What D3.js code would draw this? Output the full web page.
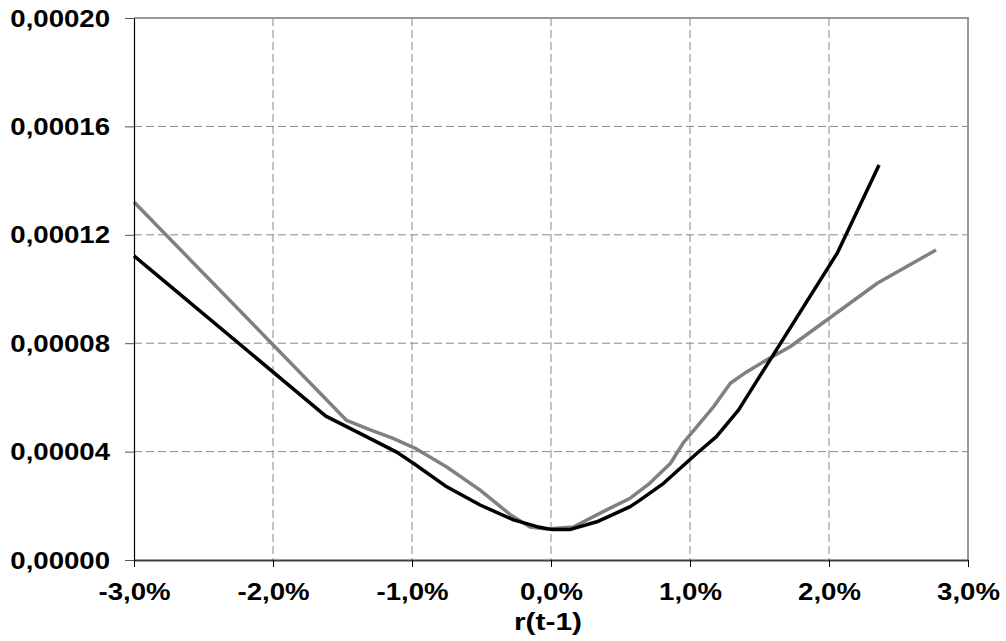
<!DOCTYPE html>
<html>
<head>
<meta charset="utf-8">
<script src="https://cdn.jsdelivr.net/npm/d3@7"></script>
<style>
  body { margin: 0; background: #fff; }
  text { font-family: "Liberation Sans", Arial, sans-serif; font-weight: bold; font-size: 23px; fill: #000; }
</style>
</head>
<body>
<div id="chart"></div>
<script>
// black series
const blackX = [-3.0, -1.62, -1.35, -1.11, -0.99, -0.75, -0.51, -0.27, -0.10, 0.0, 0.14, 0.33, 0.57, 0.64, 0.81, 1.05, 1.19, 1.35, 2.06, 2.36];
const blackY = [1.122e-4, 5.31e-5, 4.61e-5, 3.98e-5, 3.57e-5, 2.70e-5, 2.03e-5, 1.48e-5, 1.23e-5, 1.13e-5, 1.13e-5, 1.41e-5, 1.97e-5, 2.21e-5, 2.83e-5, 3.94e-5, 4.55e-5, 5.54e-5, 1.133e-4, 1.458e-4];

// gray series
const grayX = [-3.0, -1.47, -1.30, -1.14, -0.98, -0.75, -0.51, -0.29, -0.15, -0.03, 0.16, 0.40, 0.57, 0.71, 0.86, 0.95, 1.05, 1.17, 1.29, 1.41, 1.53, 1.72, 2.35, 2.77];
const grayY = [1.321e-4, 5.15e-5, 4.80e-5, 4.50e-5, 4.13e-5, 3.43e-5, 2.58e-5, 1.66e-5, 1.22e-5, 1.14e-5, 1.22e-5, 1.85e-5, 2.28e-5, 2.83e-5, 3.57e-5, 4.31e-5, 4.92e-5, 5.66e-5, 6.52e-5, 6.95e-5, 7.32e-5, 7.87e-5, 1.022e-4, 1.144e-4];

const xTicks = [-0.03, -0.02, -0.01, 0, 0.01, 0.02, 0.03];
const yTicks = [0, 0.00004, 0.00008, 0.00012, 0.00016, 0.0002];
const xLabel = "r(t-1)";

const width = 834;
const height = 542;
const margin = { top: 18, right: 38, bottom: 81, left: 134 };
const stretch = 1.2;

const svg = d3.select("#chart")
    .append("svg")
    .attr("width", width + margin.left + margin.right)
    .attr("height", height + margin.top + margin.bottom)
    .append("g")
    .attr("transform", `translate(${margin.left},${margin.top})`);

const xScale = d3.scaleLinear().domain([-0.03, 0.03]).range([0, width]);
const yScale = d3.scaleLinear().domain([0, 0.0002]).range([height, 0]);

const fmtY = d => d3.format(".5f")(d).replace(".", ",");
const fmtX = d => d3.format(".1%")(d).replace(".", ",").replace("\u2212", "-");

// grid
svg.selectAll(".hgrid")
    .data(yTicks.slice(1, -1))
    .enter()
    .append("line")
    .attr("x1", 0)
    .attr("x2", width)
    .attr("y1", d => yScale(d))
    .attr("y2", d => yScale(d))
    .attr("stroke", "#888")
    .attr("stroke-dasharray", "8,4");

svg.selectAll(".vgrid")
    .data(xTicks.slice(1, -1))
    .enter()
    .append("line")
    .attr("x1", d => xScale(d))
    .attr("x2", d => xScale(d))
    .attr("y1", 0)
    .attr("y2", height)
    .attr("stroke", "#888")
    .attr("stroke-dasharray", "8,4");

// top and right border
svg.append("path")
    .attr("d", `M0,0H${width}V${height}`)
    .attr("fill", "none")
    .attr("stroke", "#999")
    .attr("stroke-width", 2);

// lines
const line = d3.line()
    .x(d => xScale(d[0] / 100))
    .y(d => yScale(d[1]));

svg.append("path")
    .datum(grayX.map((x, i) => [x, grayY[i]]))
    .attr("fill", "none")
    .attr("stroke", "#808080")
    .attr("stroke-width", 3.5)
    .attr("stroke-linejoin", "round")
    .attr("d", line);

svg.append("path")
    .datum(blackX.map((x, i) => [x, blackY[i]]))
    .attr("fill", "none")
    .attr("stroke", "#000")
    .attr("stroke-width", 3.5)
    .attr("stroke-linejoin", "round")
    .attr("d", line);

// axes
const xAxis = svg.append("g")
    .attr("transform", `translate(0,${height})`)
    .call(d3.axisBottom(xScale).tickValues(xTicks).tickFormat(fmtX).tickSize(7).tickSizeOuter(0));
xAxis.select(".domain").attr("stroke", "#404040").attr("stroke-width", 2);
xAxis.selectAll(".tick line").attr("stroke", "#000");
xAxis.selectAll(".tick text")
    .attr("y", 0)
    .attr("dy", null)
    .attr("transform", `translate(0,40) scale(${stretch},1)`);

const yAxis = svg.append("g")
    .call(d3.axisLeft(yScale).tickValues(yTicks).tickFormat(fmtY).tickSize(9).tickSizeOuter(0));
yAxis.select(".domain").attr("stroke", "#000").attr("stroke-width", 1.2);
yAxis.selectAll(".tick line").attr("stroke", "#555");
yAxis.selectAll(".tick text")
    .attr("x", 0)
    .attr("dy", null)
    .attr("transform", `translate(-24,8) scale(${stretch},1)`);

svg.selectAll("g").attr("font-family", null).attr("font-size", null);

svg.append("text")
    .attr("text-anchor", "middle")
    .attr("transform", `translate(${width / 2 - 3},${height + 70}) scale(${stretch + 0.1},1)`)
    .text(xLabel);
</script>
</body>
</html>
